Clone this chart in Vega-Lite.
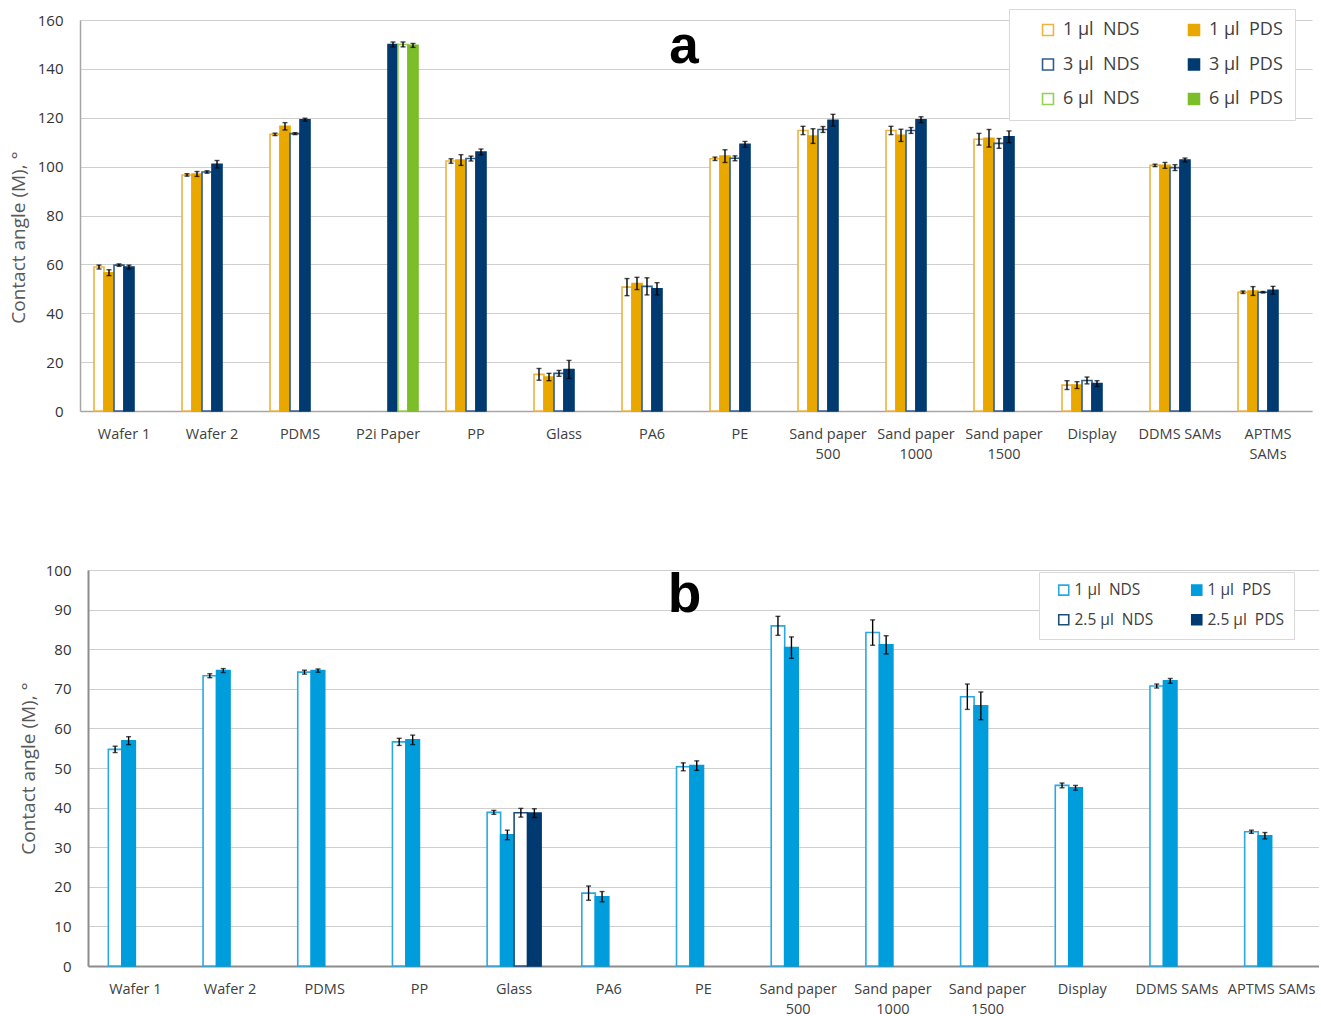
{
  "$schema": "https://vega.github.io/schema/vega-lite/v6.json",
  "background": "white",
  "padding": {"left": 9, "top": 8, "right": 0, "bottom": 0},
  "spacing": 102,
  "resolve": {
    "scale": {"x": "independent", "y": "independent", "xOffset": "independent", "fill": "independent", "stroke": "independent"},
    "legend": {"fill": "independent", "stroke": "independent"},
    "axis": {"x": "independent", "y": "independent"}
  },
  "datasets": {
    "a": [
      {"cat": "Wafer 1", "s": "1 µl\u00a0 NDS", "v": 58.9, "lo": 58.1, "hi": 59.7},
      {"cat": "Wafer 1", "s": "1 µl\u00a0 PDS", "v": 56.6, "lo": 55.4, "hi": 57.8},
      {"cat": "Wafer 1", "s": "3 µl\u00a0 NDS", "v": 59.7, "lo": 59.2, "hi": 60.2},
      {"cat": "Wafer 1", "s": "3 µl\u00a0 PDS", "v": 58.9, "lo": 58.1, "hi": 59.7},
      {"cat": "Wafer 2", "s": "1 µl\u00a0 NDS", "v": 96.6, "lo": 96.1, "hi": 97.1},
      {"cat": "Wafer 2", "s": "1 µl\u00a0 PDS", "v": 97.0, "lo": 96.0, "hi": 98.0},
      {"cat": "Wafer 2", "s": "3 µl\u00a0 NDS", "v": 97.8, "lo": 97.3, "hi": 98.3},
      {"cat": "Wafer 2", "s": "3 µl\u00a0 PDS", "v": 101.0, "lo": 99.5, "hi": 102.5},
      {"cat": "PDMS", "s": "1 µl\u00a0 NDS", "v": 113.2, "lo": 112.7, "hi": 113.7},
      {"cat": "PDMS", "s": "1 µl\u00a0 PDS", "v": 116.5, "lo": 115.0, "hi": 118.0},
      {"cat": "PDMS", "s": "3 µl\u00a0 NDS", "v": 113.5, "lo": 113.1, "hi": 113.9},
      {"cat": "PDMS", "s": "3 µl\u00a0 PDS", "v": 119.2, "lo": 118.6, "hi": 119.8},
      {"cat": "P2i Paper", "s": "3 µl\u00a0 PDS", "v": 150.0, "lo": 149.0, "hi": 151.0},
      {"cat": "P2i Paper", "s": "6 µl\u00a0 NDS", "v": 150.0, "lo": 149.0, "hi": 151.0},
      {"cat": "P2i Paper", "s": "6 µl\u00a0 PDS", "v": 149.6, "lo": 148.8, "hi": 150.4},
      {"cat": "PP", "s": "1 µl\u00a0 NDS", "v": 102.3, "lo": 101.4, "hi": 103.2},
      {"cat": "PP", "s": "1 µl\u00a0 PDS", "v": 102.7, "lo": 100.5, "hi": 104.9},
      {"cat": "PP", "s": "3 µl\u00a0 NDS", "v": 103.3, "lo": 102.3, "hi": 104.3},
      {"cat": "PP", "s": "3 µl\u00a0 PDS", "v": 106.0, "lo": 104.8, "hi": 107.2},
      {"cat": "Glass", "s": "1 µl\u00a0 NDS", "v": 15.0, "lo": 12.6, "hi": 17.4},
      {"cat": "Glass", "s": "1 µl\u00a0 PDS", "v": 13.9, "lo": 12.4, "hi": 15.4},
      {"cat": "Glass", "s": "3 µl\u00a0 NDS", "v": 15.4, "lo": 14.2, "hi": 16.6},
      {"cat": "Glass", "s": "3 µl\u00a0 PDS", "v": 17.0, "lo": 13.3, "hi": 20.7},
      {"cat": "PA6", "s": "1 µl\u00a0 NDS", "v": 50.7, "lo": 47.2, "hi": 54.2},
      {"cat": "PA6", "s": "1 µl\u00a0 PDS", "v": 52.2, "lo": 49.7, "hi": 54.7},
      {"cat": "PA6", "s": "3 µl\u00a0 NDS", "v": 51.0, "lo": 47.5, "hi": 54.5},
      {"cat": "PA6", "s": "3 µl\u00a0 PDS", "v": 50.0, "lo": 47.5, "hi": 52.5},
      {"cat": "PE", "s": "1 µl\u00a0 NDS", "v": 103.2, "lo": 102.5, "hi": 103.9},
      {"cat": "PE", "s": "1 µl\u00a0 PDS", "v": 104.3, "lo": 101.7, "hi": 106.9},
      {"cat": "PE", "s": "3 µl\u00a0 NDS", "v": 103.4, "lo": 102.4, "hi": 104.4},
      {"cat": "PE", "s": "3 µl\u00a0 PDS", "v": 109.1, "lo": 107.9, "hi": 110.3},
      {"cat": "Sand paper 500", "s": "1 µl\u00a0 NDS", "v": 114.8, "lo": 113.1, "hi": 116.5},
      {"cat": "Sand paper 500", "s": "1 µl\u00a0 PDS", "v": 112.5, "lo": 109.5, "hi": 115.5},
      {"cat": "Sand paper 500", "s": "3 µl\u00a0 NDS", "v": 115.2, "lo": 114.0, "hi": 116.4},
      {"cat": "Sand paper 500", "s": "3 µl\u00a0 PDS", "v": 119.0, "lo": 116.6, "hi": 121.4},
      {"cat": "Sand paper 1000", "s": "1 µl\u00a0 NDS", "v": 114.8, "lo": 113.1, "hi": 116.5},
      {"cat": "Sand paper 1000", "s": "1 µl\u00a0 PDS", "v": 112.8, "lo": 110.3, "hi": 115.3},
      {"cat": "Sand paper 1000", "s": "3 µl\u00a0 NDS", "v": 114.8, "lo": 113.6, "hi": 116.0},
      {"cat": "Sand paper 1000", "s": "3 µl\u00a0 PDS", "v": 119.2, "lo": 118.0, "hi": 120.4},
      {"cat": "Sand paper 1500", "s": "1 µl\u00a0 NDS", "v": 111.2, "lo": 108.8, "hi": 113.6},
      {"cat": "Sand paper 1500", "s": "1 µl\u00a0 PDS", "v": 111.6, "lo": 108.0, "hi": 115.2},
      {"cat": "Sand paper 1500", "s": "3 µl\u00a0 NDS", "v": 109.5, "lo": 107.5, "hi": 111.5},
      {"cat": "Sand paper 1500", "s": "3 µl\u00a0 PDS", "v": 112.2, "lo": 109.8, "hi": 114.6},
      {"cat": "Display", "s": "1 µl\u00a0 NDS", "v": 10.6, "lo": 8.8, "hi": 12.4},
      {"cat": "Display", "s": "1 µl\u00a0 PDS", "v": 10.6, "lo": 9.2, "hi": 12.0},
      {"cat": "Display", "s": "3 µl\u00a0 NDS", "v": 12.5, "lo": 11.1, "hi": 13.9},
      {"cat": "Display", "s": "3 µl\u00a0 PDS", "v": 11.2, "lo": 10.0, "hi": 12.4},
      {"cat": "DDMS SAMs", "s": "1 µl\u00a0 NDS", "v": 100.5, "lo": 100.0, "hi": 101.0},
      {"cat": "DDMS SAMs", "s": "1 µl\u00a0 PDS", "v": 100.5, "lo": 99.3, "hi": 101.7},
      {"cat": "DDMS SAMs", "s": "3 µl\u00a0 NDS", "v": 99.6, "lo": 98.4, "hi": 100.8},
      {"cat": "DDMS SAMs", "s": "3 µl\u00a0 PDS", "v": 102.7, "lo": 101.9, "hi": 103.5},
      {"cat": "APTMS SAMs", "s": "1 µl\u00a0 NDS", "v": 48.6, "lo": 48.1, "hi": 49.1},
      {"cat": "APTMS SAMs", "s": "1 µl\u00a0 PDS", "v": 49.1, "lo": 47.3, "hi": 50.9},
      {"cat": "APTMS SAMs", "s": "3 µl\u00a0 NDS", "v": 48.6, "lo": 48.3, "hi": 48.9},
      {"cat": "APTMS SAMs", "s": "3 µl\u00a0 PDS", "v": 49.4, "lo": 47.8, "hi": 51.0}
    ],
    "b": [
      {"cat": "Wafer 1", "s": "1 µl\u00a0 NDS", "v": 54.7, "lo": 53.9, "hi": 55.5},
      {"cat": "Wafer 1", "s": "1 µl\u00a0 PDS", "v": 56.9, "lo": 55.9, "hi": 57.9},
      {"cat": "Wafer 2", "s": "1 µl\u00a0 NDS", "v": 73.3, "lo": 72.8, "hi": 73.8},
      {"cat": "Wafer 2", "s": "1 µl\u00a0 PDS", "v": 74.6, "lo": 74.1, "hi": 75.1},
      {"cat": "PDMS", "s": "1 µl\u00a0 NDS", "v": 74.2, "lo": 73.7, "hi": 74.7},
      {"cat": "PDMS", "s": "1 µl\u00a0 PDS", "v": 74.6, "lo": 74.2, "hi": 75.0},
      {"cat": "PP", "s": "1 µl\u00a0 NDS", "v": 56.6, "lo": 55.7, "hi": 57.5},
      {"cat": "PP", "s": "1 µl\u00a0 PDS", "v": 57.1, "lo": 55.9, "hi": 58.3},
      {"cat": "Glass", "s": "1 µl\u00a0 NDS", "v": 38.8, "lo": 38.3, "hi": 39.3},
      {"cat": "Glass", "s": "1 µl\u00a0 PDS", "v": 33.1, "lo": 31.9, "hi": 34.3},
      {"cat": "Glass", "s": "2.5 µl\u00a0 NDS", "v": 38.7, "lo": 37.6, "hi": 39.8},
      {"cat": "Glass", "s": "2.5 µl\u00a0 PDS", "v": 38.6, "lo": 37.5, "hi": 39.7},
      {"cat": "PA6", "s": "1 µl\u00a0 NDS", "v": 18.4, "lo": 16.6, "hi": 20.2},
      {"cat": "PA6", "s": "1 µl\u00a0 PDS", "v": 17.5, "lo": 16.2, "hi": 18.8},
      {"cat": "PE", "s": "1 µl\u00a0 NDS", "v": 50.3, "lo": 49.3, "hi": 51.3},
      {"cat": "PE", "s": "1 µl\u00a0 PDS", "v": 50.6, "lo": 49.4, "hi": 51.8},
      {"cat": "Sand paper 500", "s": "1 µl\u00a0 NDS", "v": 85.9, "lo": 83.5, "hi": 88.3},
      {"cat": "Sand paper 500", "s": "1 µl\u00a0 PDS", "v": 80.4, "lo": 77.7, "hi": 83.1},
      {"cat": "Sand paper 1000", "s": "1 µl\u00a0 NDS", "v": 84.2, "lo": 81.0, "hi": 87.4},
      {"cat": "Sand paper 1000", "s": "1 µl\u00a0 PDS", "v": 81.1, "lo": 78.8, "hi": 83.4},
      {"cat": "Sand paper 1500", "s": "1 µl\u00a0 NDS", "v": 68.0, "lo": 64.8, "hi": 71.2},
      {"cat": "Sand paper 1500", "s": "1 µl\u00a0 PDS", "v": 65.7, "lo": 62.2, "hi": 69.2},
      {"cat": "Display", "s": "1 µl\u00a0 NDS", "v": 45.6, "lo": 45.0, "hi": 46.2},
      {"cat": "Display", "s": "1 µl\u00a0 PDS", "v": 45.0, "lo": 44.4, "hi": 45.6},
      {"cat": "DDMS SAMs", "s": "1 µl\u00a0 NDS", "v": 70.7, "lo": 70.2, "hi": 71.2},
      {"cat": "DDMS SAMs", "s": "1 µl\u00a0 PDS", "v": 72.0, "lo": 71.4, "hi": 72.6},
      {"cat": "APTMS SAMs", "s": "1 µl\u00a0 NDS", "v": 33.9, "lo": 33.5, "hi": 34.3},
      {"cat": "APTMS SAMs", "s": "1 µl\u00a0 PDS", "v": 32.9, "lo": 32.1, "hi": 33.7}
    ]
  },
  "vconcat": [
    {
      "width": 1232,
      "height": 391,
      "encoding": {
        "x": {
          "field": "cat", "type": "nominal", "title": null,
          "scale": {"domain": ["Wafer 1", "Wafer 2", "PDMS", "P2i Paper", "PP", "Glass", "PA6", "PE", "Sand paper 500", "Sand paper 1000", "Sand paper 1500", "Display", "DDMS SAMs", "APTMS SAMs"], "paddingInner": 0.318, "paddingOuter": 0.159},
          "axis": {
            "labelExpr": "indexof(datum.value,'Sand paper')==0 ? ['Sand paper', substring(datum.value,11)] : (datum.value=='APTMS SAMs' ? ['APTMS','SAMs'] : datum.value)",
            "labelAngle": 0, "labelFontSize": 14.5, "labelPadding": 16, "labelLineHeight": 20, "labelBaseline": "top", "domainColor": "#a6a6a6", "domainWidth": 1.5, "ticks": false, "grid": false
          }
        }
      },
      "layer": [
        {
          "data": {"name": "a"},
          "mark": {"type": "bar", "strokeWidth": 1.6},
          "encoding": {
            "xOffset": {"field": "s", "type": "nominal", "scale": {"domain": ["1 µl\u00a0 NDS", "1 µl\u00a0 PDS", "3 µl\u00a0 NDS", "3 µl\u00a0 PDS", "6 µl\u00a0 NDS", "6 µl\u00a0 PDS"], "paddingInner": 0, "paddingOuter": 0}},
            "y": {
              "field": "v", "type": "quantitative", "title": "Contact angle (M), °",
              "scale": {"domain": [0, 160], "nice": false},
              "axis": {"tickCount": 8, "labelOverlap": false, "labelFontSize": 15, "labelColor": "#333333", "labelPadding": 17, "titlePadding": 9, "titleY": 217, "titleFontSize": 19, "titleColor": "#595959", "titleFontWeight": "normal", "ticks": false, "domainColor": "#a6a6a6", "domainWidth": 1.5, "gridColor": "#cfcfcf"}
            },
            "fill": {
              "field": "s", "type": "nominal",
              "scale": {"domain": ["1 µl\u00a0 NDS", "1 µl\u00a0 PDS", "3 µl\u00a0 NDS", "3 µl\u00a0 PDS", "6 µl\u00a0 NDS", "6 µl\u00a0 PDS"], "range": ["#ffffff", "#e9a800", "#ffffff", "#003a70", "#ffffff", "#7cbd2a"]},
              "legend": {"title": null, "orient": "none", "direction": "horizontal", "legendX": 929, "legendY": -11, "columns": 2, "symbolType": "square", "symbolSize": 120, "symbolStrokeWidth": 1.6, "labelFontSize": 18, "labelColor": "#404040", "labelOffset": 6, "strokeColor": "#d9d9d9", "fillColor": "#ffffff", "padding": 12, "rowPadding": 16.5, "columnPadding": 27, "symbolOffset": 18}
            },
            "stroke": {
              "field": "s", "type": "nominal",
              "scale": {"domain": ["1 µl\u00a0 NDS", "1 µl\u00a0 PDS", "3 µl\u00a0 NDS", "3 µl\u00a0 PDS", "6 µl\u00a0 NDS", "6 µl\u00a0 PDS"], "range": ["#efb43c", "#e9a800", "#2f5d8c", "#003a70", "#94d152", "#7cbd2a"]},
              "legend": {"title": null, "orient": "none", "direction": "horizontal", "legendX": 929, "legendY": -11, "columns": 2, "symbolType": "square", "symbolSize": 120, "symbolStrokeWidth": 1.6, "labelFontSize": 18, "labelColor": "#404040", "labelOffset": 6, "strokeColor": "#d9d9d9", "fillColor": "#ffffff", "padding": 12, "rowPadding": 16.5, "columnPadding": 27, "symbolOffset": 18}
            }
          }
        },
        {
          "data": {"name": "a"},
          "mark": {"type": "rule", "color": "#000000", "strokeWidth": 1.4},
          "encoding": {
            "xOffset": {"field": "s", "type": "nominal"},
            "y": {"field": "lo", "type": "quantitative", "title": "Contact angle (M), °"}, "y2": {"field": "hi"}}
        },
        {
          "data": {"name": "a"},
          "mark": {"type": "tick", "color": "#000000", "size": 5, "thickness": 1.4},
          "encoding": {"xOffset": {"field": "s", "type": "nominal"}, "y": {"field": "lo", "type": "quantitative", "title": "Contact angle (M), °"}}
        },
        {
          "data": {"name": "a"},
          "mark": {"type": "tick", "color": "#000000", "size": 5, "thickness": 1.4},
          "encoding": {"xOffset": {"field": "s", "type": "nominal"}, "y": {"field": "hi", "type": "quantitative", "title": "Contact angle (M), °"}}
        },
        {
          "data": {"values": [{"t": "a"}]},
          "mark": {"type": "text", "font": "Liberation Sans", "fontSize": 53, "fontWeight": "bold", "color": "#000000", "baseline": "alphabetic", "align": "center", "dx": 32},
          "encoding": {"text": {"field": "t"}, "x": {"datum": "PA6"}, "y": {"datum": 142.6}}
        }
      ]
    },
    {
      "width": 1239,
      "height": 396,
      "encoding": {
        "x": {
          "field": "cat", "type": "nominal", "title": null,
          "scale": {"domain": ["Wafer 1", "Wafer 2", "PDMS", "PP", "Glass", "PA6", "PE", "Sand paper 500", "Sand paper 1000", "Sand paper 1500", "Display", "DDMS SAMs", "APTMS SAMs"], "range": [8, 1239], "paddingInner": 0.43, "paddingOuter": 0.215},
          "axis": {
            "labelExpr": "indexof(datum.value,'Sand paper')==0 ? ['Sand paper', substring(datum.value,11)] : datum.value",
            "labelAngle": 0, "labelFontSize": 14.5, "labelPadding": 16, "labelLineHeight": 20, "labelBaseline": "top", "domainColor": "#8c8c8c", "domainWidth": 2, "ticks": false, "grid": false
          }
        }
      },
      "layer": [
        {
          "data": {"name": "b"},
          "mark": {"type": "bar", "strokeWidth": 1.6},
          "encoding": {
            "xOffset": {"field": "s", "type": "nominal", "scale": {"domain": ["1 µl\u00a0 NDS", "1 µl\u00a0 PDS", "2.5 µl\u00a0 NDS", "2.5 µl\u00a0 PDS"], "paddingInner": 0, "paddingOuter": 0}},
            "y": {
              "field": "v", "type": "quantitative", "title": "Contact angle (M), °",
              "scale": {"domain": [0, 100], "nice": false},
              "axis": {"tickCount": 10, "labelOverlap": false, "offset": -8, "labelFontSize": 15, "labelColor": "#333333", "labelPadding": 17, "titlePadding": 7, "titleFontSize": 19, "titleColor": "#595959", "titleFontWeight": "normal", "ticks": false, "domainColor": "#8c8c8c", "domainWidth": 2, "gridColor": "#cfcfcf"}
            },
            "fill": {
              "field": "s", "type": "nominal",
              "scale": {"domain": ["1 µl\u00a0 NDS", "1 µl\u00a0 PDS", "2.5 µl\u00a0 NDS", "2.5 µl\u00a0 PDS"], "range": ["#ffffff", "#009ddc", "#ffffff", "#003a70"]},
              "legend": {"title": null, "orient": "none", "direction": "horizontal", "legendX": 959, "legendY": 2, "columns": 2, "symbolType": "square", "symbolSize": 100, "symbolStrokeWidth": 1.6, "labelFontSize": 15.5, "labelColor": "#404040", "labelOffset": 3, "strokeColor": "#d9d9d9", "fillColor": "#ffffff", "padding": 10, "rowPadding": 12, "columnPadding": 28, "symbolOffset": 7}
            },
            "stroke": {
              "field": "s", "type": "nominal",
              "scale": {"domain": ["1 µl\u00a0 NDS", "1 µl\u00a0 PDS", "2.5 µl\u00a0 NDS", "2.5 µl\u00a0 PDS"], "range": ["#2aa8e2", "#009ddc", "#1f4e79", "#003a70"]},
              "legend": {"title": null, "orient": "none", "direction": "horizontal", "legendX": 959, "legendY": 2, "columns": 2, "symbolType": "square", "symbolSize": 100, "symbolStrokeWidth": 1.6, "labelFontSize": 15.5, "labelColor": "#404040", "labelOffset": 3, "strokeColor": "#d9d9d9", "fillColor": "#ffffff", "padding": 10, "rowPadding": 12, "columnPadding": 28, "symbolOffset": 7}
            }
          }
        },
        {
          "data": {"name": "b"},
          "mark": {"type": "rule", "color": "#000000", "strokeWidth": 1.4},
          "encoding": {"xOffset": {"field": "s", "type": "nominal"}, "y": {"field": "lo", "type": "quantitative", "title": "Contact angle (M), °"}, "y2": {"field": "hi"}}
        },
        {
          "data": {"name": "b"},
          "mark": {"type": "tick", "color": "#000000", "size": 5, "thickness": 1.4},
          "encoding": {"xOffset": {"field": "s", "type": "nominal"}, "y": {"field": "lo", "type": "quantitative", "title": "Contact angle (M), °"}}
        },
        {
          "data": {"name": "b"},
          "mark": {"type": "tick", "color": "#000000", "size": 5, "thickness": 1.4},
          "encoding": {"xOffset": {"field": "s", "type": "nominal"}, "y": {"field": "hi", "type": "quantitative", "title": "Contact angle (M), °"}}
        },
        {
          "data": {"values": [{"t": "b"}]},
          "mark": {"type": "text", "font": "Liberation Sans", "fontSize": 55, "fontWeight": "bold", "color": "#000000", "baseline": "alphabetic", "align": "center", "dx": -19},
          "encoding": {"text": {"field": "t"}, "x": {"datum": "PE"}, "y": {"datum": 89.5}}
        }
      ]
    }
  ],
  "config": {
    "view": {"stroke": null},
    "font": "Open Sans",
    "axis": {"labelFont": "Open Sans", "titleFont": "Open Sans", "labelColor": "#404040"},
    "legend": {"labelFont": "Open Sans"}
  }
}
